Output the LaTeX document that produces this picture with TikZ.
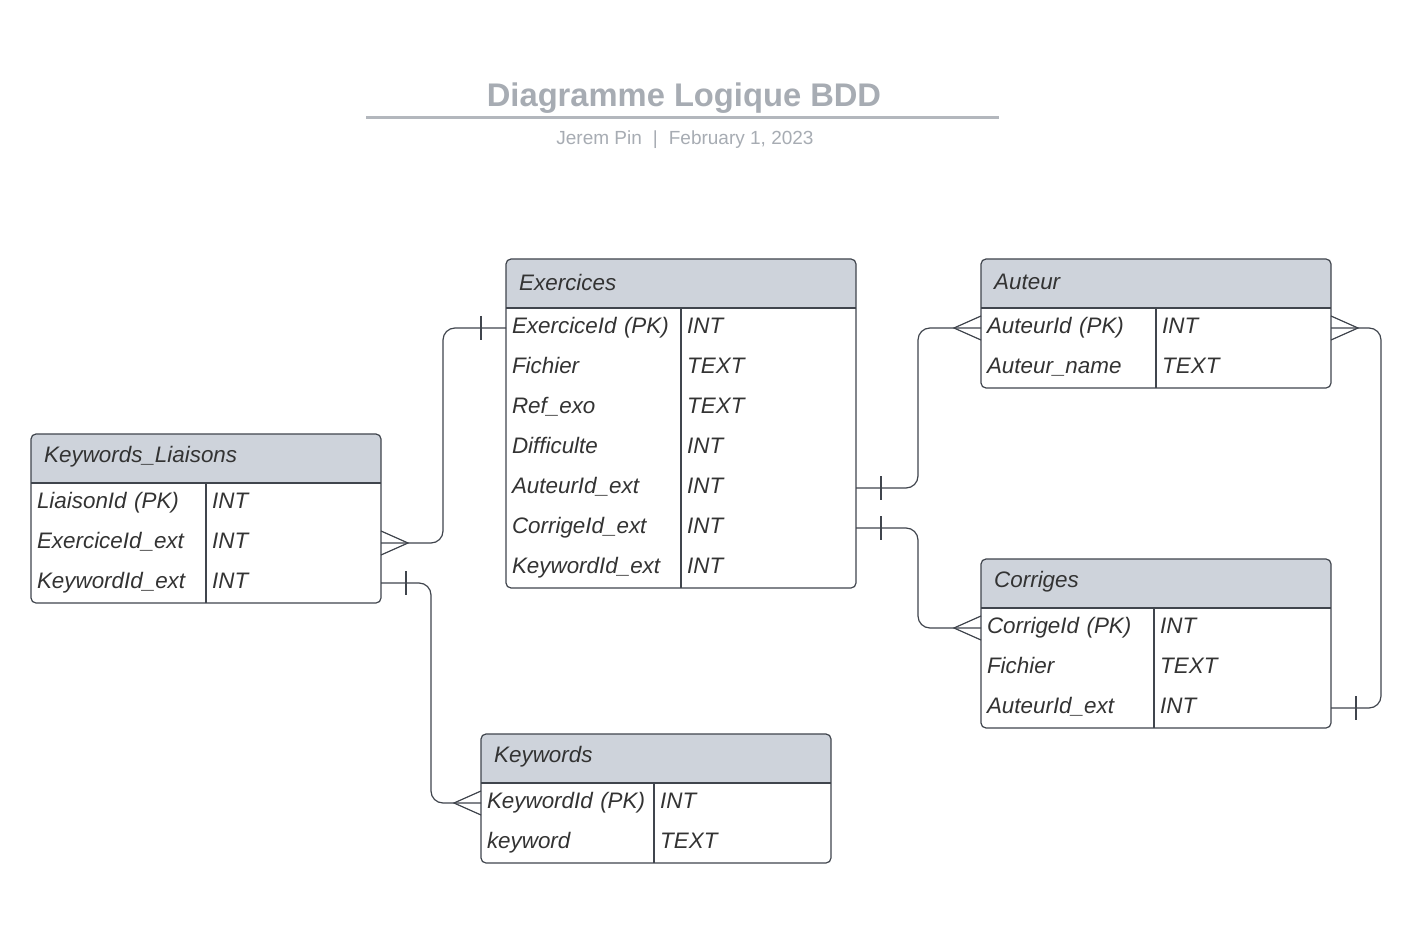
\documentclass[tikz,border=0pt]{standalone}
\usepackage{fontspec}
\setmainfont{Liberation Sans}
\usetikzlibrary{positioning}
\definecolor{hdrgray}{HTML}{CED3DB}
\definecolor{linegray}{HTML}{40454D}
\definecolor{txtgray}{HTML}{333333}
\definecolor{ttlgray}{HTML}{A7ACB3}
\definecolor{rulegray}{HTML}{B3B7BD}
\newcommand{\rowfont}{\fontsize{22.4}{26}\selectfont\itshape}

\begin{document}
\begin{tikzpicture}[x=1pt,y=-1pt]
    \tikzstyle{frame}=[draw=linegray,line width=1.2pt,rounded corners=5]
    \tikzstyle{sep}=[draw=linegray,line width=1.2pt]
    \tikzstyle{head}=[anchor=west,inner sep=0,text=txtgray,font=\rowfont]
    \tikzstyle{field}=[anchor=west,minimum height=40pt,text width=338pt,text height=16pt,text depth=5pt,inner xsep=6pt,inner ysep=0,outer sep=0,align=left,text=txtgray,font=\rowfont]
    \tikzstyle{type}=[anchor=west,text height=16pt,text depth=5pt,inner xsep=6pt,inner ysep=0,text=txtgray,font=\rowfont]
    \tikzstyle{rel}=[draw=linegray,line width=1.2pt]
    \tikzstyle{link}=[rel,rounded corners=12]

    \path[fill=white,use as bounding box] (0,0) rectangle (1427,925);

    % title
    \node[font=\bfseries\fontsize{32.7}{38}\selectfont,text=ttlgray] (title) at (684,98) {Diagramme Logique BDD};
    \draw[rulegray,line width=3pt] (366,118) -- (999,118);
    \node[font=\fontsize{19}{23}\selectfont,text=ttlgray] (sub) at (685,140) {Jerem Pin\hspace{11pt}|\hspace{11pt}February 1, 2023};

    % Exercices
    \fill[hdrgray,rounded corners=5] (506,259) rectangle (856,308);
    \fill[hdrgray] (506,290) rectangle (856,308);
    \draw[frame] (506,259) rectangle (856,588);
    \draw[sep] (506,308) -- (856,308) (681,308) -- (681,588);
    \node[head] (exo) at (519,282) {Exercices};
    \foreach \f/\t [count=\i] in {ExerciceId (PK)/INT, Fichier/TEXT, Ref\_exo/TEXT, Difficulte/INT, AuteurId\_ext/INT, CorrigeId\_ext/INT, KeywordId\_ext/INT}
      \node[field] (exo-\i) at (506,288+40*\i) {\f} node[type] (exo-\i-t) at (681,288+40*\i) {\t};

    % Auteur
    \fill[hdrgray,rounded corners=5] (981,259) rectangle (1331,308);
    \fill[hdrgray] (981,290) rectangle (1331,308);
    \draw[frame] (981,259) rectangle (1331,388);
    \draw[sep] (981,308) -- (1331,308) (1156,308) -- (1156,388);
    \node[head] (aut) at (994,282) {Auteur};
    \foreach \f/\t [count=\i] in {AuteurId (PK)/INT, Auteur\_name/TEXT}
      \node[field] (aut-\i) at (981,288+40*\i) {\f} node[type] (aut-\i-t) at (1156,288+40*\i) {\t};

    % Keywords_Liaisons
    \fill[hdrgray,rounded corners=5] (31,434) rectangle (381,483);
    \fill[hdrgray] (31,465) rectangle (381,483);
    \draw[frame] (31,434) rectangle (381,603);
    \draw[sep] (31,483) -- (381,483) (206,483) -- (206,603);
    \node[head] (kl) at (44,457) {Keywords\_Liaisons};
    \foreach \f/\t [count=\i] in {LiaisonId (PK)/INT, ExerciceId\_ext/INT, KeywordId\_ext/INT}
      \node[field] (kl-\i) at (31,463+40*\i) {\f} node[type] (kl-\i-t) at (206,463+40*\i) {\t};

    % Corriges
    \fill[hdrgray,rounded corners=5] (981,559) rectangle (1331,608);
    \fill[hdrgray] (981,590) rectangle (1331,608);
    \draw[frame] (981,559) rectangle (1331,728);
    \draw[sep] (981,608) -- (1331,608) (1154,608) -- (1154,728);
    \node[head] (cor) at (994,582) {Corriges};
    \foreach \f/\t [count=\i] in {CorrigeId (PK)/INT, Fichier/TEXT, AuteurId\_ext/INT}
      \node[field] (cor-\i) at (981,588+40*\i) {\f} node[type] (cor-\i-t) at (1154,588+40*\i) {\t};

    % Keywords
    \fill[hdrgray,rounded corners=5] (481,734) rectangle (831,783);
    \fill[hdrgray] (481,765) rectangle (831,783);
    \draw[frame] (481,734) rectangle (831,863);
    \draw[sep] (481,783) -- (831,783) (654,783) -- (654,863);
    \node[head] (kw) at (494,757) {Keywords};
    \foreach \f/\t [count=\i] in {KeywordId (PK)/INT, keyword/TEXT}
      \node[field] (kw-\i) at (481,763+40*\i) {\f} node[type] (kw-\i-t) at (654,763+40*\i) {\t};

    % Exercices - Keywords_Liaisons
    \draw[link] (exo-1.west) -- ++(-63,0) |- (kl-2.east);
    \draw[rel] (exo-1.west) ++(-25,-12) -- ++(0,24);
    \draw[rel] (kl-2.east) ++(0,-12) -- ++(27,12) -- ++(-27,12);

    % Keywords_Liaisons - Keywords
    \draw[link] (kl-3.east) -- ++(50,0) |- (kw-1.west);
    \draw[rel] (kl-3.east) ++(25,-12) -- ++(0,24);
    \draw[rel] (kw-1.west) ++(0,-12) -- ++(-27,12) -- ++(27,12);

    % Exercices - Auteur
    \draw[link] (exo-5.east) -- ++(62,0) |- (aut-1.west);
    \draw[rel] (exo-5.east) ++(25,-12) -- ++(0,24);
    \draw[rel] (aut-1.west) ++(0,-12) -- ++(-27,12) -- ++(27,12);

    % Exercices - Corriges
    \draw[link] (exo-6.east) -- ++(62,0) |- (cor-1.west);
    \draw[rel] (exo-6.east) ++(25,-12) -- ++(0,24);
    \draw[rel] (cor-1.west) ++(0,-12) -- ++(-27,12) -- ++(27,12);

    % Auteur - Corriges
    \draw[link] (aut-1.east) -- ++(50,0) |- (cor-3.east);
    \draw[rel] (aut-1.east) ++(0,-12) -- ++(27,12) -- ++(-27,12);
    \draw[rel] (cor-3.east) ++(25,-12) -- ++(0,24);
  \end{tikzpicture}
\end{document}
